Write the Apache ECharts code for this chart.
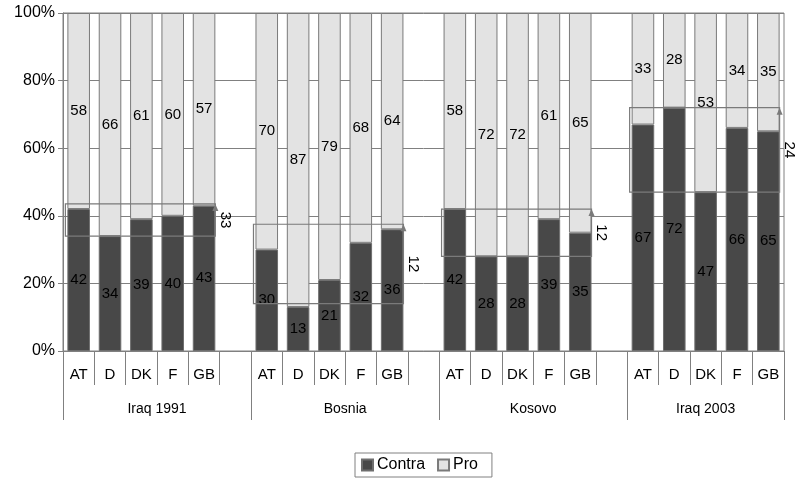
<!DOCTYPE html>
<html>
<head>
<meta charset="utf-8">
<script src="https://cdn.jsdelivr.net/npm/echarts@6/dist/echarts.min.js"></script>
<style>
  html, body { margin: 0; padding: 0; background: #fff; }
  #chart { width: 804px; height: 479px; }
</style>
</head>
<body>
<div id="chart"></div>
<script>
// Conflicts and the five countries polled for each one
const conflicts = ['Iraq 1991', 'Bosnia', 'Kosovo', 'Iraq 2003'];
const countries = ['AT', 'D', 'DK', 'F', 'GB'];

// Share of respondents (%) per conflict, in country order
const contra = [
  [42, 34, 39, 40, 43],
  [30, 13, 21, 32, 36],
  [42, 28, 28, 39, 35],
  [67, 72, 47, 66, 65]
];
const pro = [
  [58, 66, 61, 60, 57],
  [70, 87, 79, 68, 64],
  [58, 72, 72, 61, 65],
  [33, 28, 53, 34, 35]
];

// Spread brackets drawn over each conflict group
const rangeHigh = [43.5, 37.5, 42, 72];
const rangeLow = [34, 14, 28, 47];
const rangeLabels = ['33', '12', '12', '24'];

const yTicks = [0, 20, 40, 60, 80, 100];

// Build the slot layout: each group is followed by an empty spacer slot, except the last
const cats = [];
const contraData = [];
const proData = [];
const groupStart = [];
conflicts.forEach((c, g) => {
  groupStart.push(cats.length);
  countries.forEach((k, i) => {
    cats.push(k);
    contraData.push(contra[g][i]);
    proData.push(pro[g][i]);
  });
  if (g < conflicts.length - 1) {
    cats.push('');
    contraData.push('-');
    proData.push('-');
  }
});
const nSlots = cats.length;

// Half-slot points for the lower (conflict) axis
const halfPoints = [];
for (let i = 0; i <= nSlots * 2; i++) halfPoints.push('');
const groupCenterIdx = {};
conflicts.forEach((c, g) => {
  const start = groupStart[g];
  const end = g < conflicts.length - 1 ? groupStart[g + 1] : nSlots;
  const idx = start + end; // (start+end)/2 slots -> index in half-slot units
  halfPoints[idx] = c;
  groupCenterIdx[idx] = true;
});
const groupBoundary = {};
groupStart.forEach(s => { groupBoundary[s * 2] = true; });
groupBoundary[nSlots * 2] = true;

const rangeData = conflicts.map((c, g) => [groupStart[g], groupStart[g] + countries.length - 1, rangeHigh[g], rangeLow[g]]);

const BAR_FRAC = 0.72;
const FONT = '"Liberation Sans", Arial, sans-serif';
const GRAY = '#808080';

const chart = echarts.init(document.getElementById('chart'), null, { renderer: 'canvas' });

chart.setOption({
  animation: false,
  backgroundColor: '#fff',
  textStyle: { fontFamily: FONT, color: '#000' },
  grid: {
    left: 63, right: 20, top: 13, bottom: 128,
    show: true, borderColor: GRAY, borderWidth: 1
  },
  legend: {
    top: 453,
    left: 355,
    data: ['Contra', 'Pro'],
    icon: 'rect',
    itemWidth: 11,
    itemHeight: 11,
    itemGap: 12,
    padding: [4, 14, 4, 6],
    borderColor: GRAY,
    borderWidth: 1,
    textStyle: { fontFamily: FONT, fontSize: 16, color: '#000', padding: [0, 0, 0, -1] }
  },
  xAxis: [
    {
      type: 'category',
      data: cats,
      boundaryGap: true,
      axisLine: { show: true, lineStyle: { color: GRAY } },
      axisTick: { show: true, length: 34, interval: 0, lineStyle: { color: GRAY } },
      axisLabel: { interval: 0, margin: 16, fontSize: 15, color: '#000', fontFamily: FONT },
      splitLine: { show: false }
    },
    {
      type: 'category',
      data: halfPoints,
      boundaryGap: false,
      position: 'bottom',
      offset: 34,
      axisLine: { show: false },
      axisTick: {
        show: true, length: 35, lineStyle: { color: GRAY },
        interval: (i) => !!groupBoundary[i]
      },
      axisLabel: {
        margin: 17, fontSize: 14, color: '#000', fontFamily: FONT,
        interval: (i) => !!groupCenterIdx[i]
      },
      splitLine: { show: false }
    }
  ],
  yAxis: {
    type: 'value',
    min: yTicks[0],
    max: yTicks[yTicks.length - 1],
    interval: yTicks[1] - yTicks[0],
    axisLine: { show: true, lineStyle: { color: GRAY } },
    axisTick: { show: true, length: 5, lineStyle: { color: GRAY } },
    axisLabel: { formatter: '{value}%', fontSize: 16, color: '#000', margin: 8, fontFamily: FONT },
    splitLine: { show: true, lineStyle: { color: GRAY, width: 1 } }
  },
  series: [
    {
      name: 'Contra',
      type: 'bar',
      stack: 'share',
      barWidth: (BAR_FRAC * 100) + '%',
      data: contraData,
      itemStyle: { color: '#484848', borderColor: '#6e6e6e', borderWidth: 1 },
      label: { show: true, position: 'inside', fontSize: 15, color: '#000', fontFamily: FONT }
    },
    {
      name: 'Pro',
      type: 'bar',
      stack: 'share',
      barWidth: (BAR_FRAC * 100) + '%',
      data: proData,
      itemStyle: { color: '#e3e3e3', borderColor: '#7a7a7a', borderWidth: 1 },
      label: { show: true, position: 'inside', fontSize: 15, color: '#000', fontFamily: FONT }
    },
    {
      name: 'spread',
      type: 'custom',
      z: 10,
      silent: true,
      data: rangeData,
      renderItem: (params, api) => {
        const x0 = api.value(0), x1 = api.value(1);
        const hi = api.value(2), lo = api.value(3);
        const slot = api.size([1, 0])[0];
        const half = slot * BAR_FRAC / 2;
        const pTop = api.coord([x0, hi]);
        const pBot = api.coord([x1, lo]);
        const left = pTop[0] - half - 2;
        const right = pBot[0] + half;
        const top = pTop[1];
        const bottom = pBot[1];
        return {
          type: 'group',
          children: [
            {
              type: 'rect',
              shape: { x: left, y: top, width: right - left, height: bottom - top },
              style: { fill: null, stroke: '#7a7a7a', lineWidth: 1.2 }
            },
            {
              type: 'polygon',
              shape: { points: [[right - 3, top + 7], [right + 3, top + 7], [right, top]] },
              style: { fill: '#7a7a7a' }
            },
            {
              type: 'text',
              x: right + 10,
              y: (top + bottom) / 2,
              rotation: -Math.PI / 2,
              style: {
                text: rangeLabels[params.dataIndex],
                fill: '#000',
                font: '15px ' + FONT,
                align: 'center',
                verticalAlign: 'middle'
              }
            }
          ]
        };
      }
    }
  ]
});
</script>
</body>
</html>
